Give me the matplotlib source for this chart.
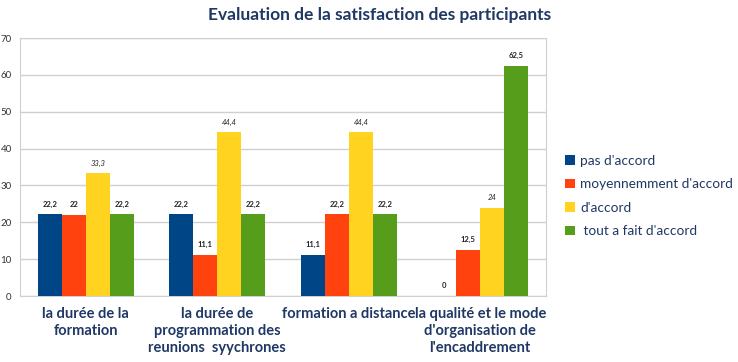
import numpy as np
import matplotlib.pyplot as plt

categories = ["la durée de la\nformation",
              "la durée de\nprogrammation des\nreunions  syychrones",
              "formation a distance",
              "la qualité et le mode\nd'organisation de\nl'encaddrement"]
series = ["pas d'accord", "moyennemment d'accord", "d'accord", " tout a fait d'accord"]
pas_accord = [22.2, 22.2, 11.1, 0]
moyen_accord = [22, 11.1, 22.2, 12.5]
accord = [33.3, 44.4, 44.4, 24]
tout_accord = [22.2, 22.2, 22.2, 62.5]
labels = [["22,2", "22,2", "11,1", "0"],
          ["22", "11,1", "22,2", "12,5"],
          ["33,3", "44,4", "44,4", "24"],
          ["22,2", "22,2", "22,2", "62,5"]]
yticks = [0, 10, 20, 30, 40, 50, 60, 70]

colors = ["#004586", "#FF420E", "#FFD320", "#579D1C"]
navy = "#1F3864"
plt.rcParams['font.family'] = ['Lato', 'DejaVu Sans']

fig = plt.figure(figsize=(7.38, 3.62), dpi=100)
ax = fig.add_axes([20/738, 1-296/362, 526/738, 258/362])

x = np.arange(len(categories))
w = 0.183
data = [pas_accord, moyen_accord, accord, tout_accord]
for i, vals in enumerate(data):
    pos = x + (i - 1.5) * w
    ax.bar(pos, vals, w, color=colors[i], label=series[i], zorder=3)
    for p, v, t in zip(pos, vals, labels[i]):
        ax.text(p, v + 1.8, t, ha='center', va='bottom', fontsize=5.5,
                fontweight='normal' if i == 2 else 'bold',
                fontstyle='italic' if i == 2 else 'normal', color='#222222')

ax.set_xlim(-0.5, 3.5)
ax.set_ylim(0, 70)
ax.set_yticks(yticks)
ax.yaxis.grid(True, color='#D0D0D0', linewidth=1, zorder=0)
ax.tick_params(axis='y', length=0, pad=6, labelsize=7, labelcolor='#333333')
ax.set_xticks(x)
ax.set_xticklabels(categories, fontsize=10.5, fontweight='bold', color=navy, linespacing=1.25)
ax.tick_params(axis='x', length=0, pad=8)
for s in ax.spines.values():
    s.set_color('#D0D0D0')

fig.text(380/738, 1-15/362, "Evaluation de la satisfaction des participants",
         ha='center', va='center', fontsize=12.5, fontweight='bold', color=navy)

leg = fig.legend(loc='center left', bbox_to_anchor=(553/738, 1-196/362), frameon=False,
                 fontsize=9.8, handlelength=0.7, handleheight=0.7, handletextpad=0.4,
                 labelspacing=0.85, labelcolor=navy)

fig.savefig("out.png", dpi=100)
